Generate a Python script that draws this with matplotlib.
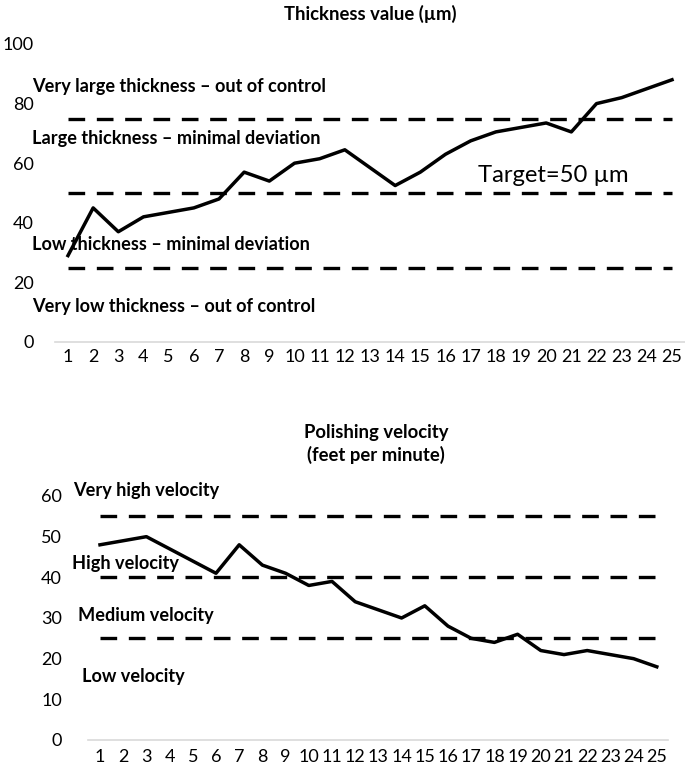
import matplotlib
matplotlib.use('Agg')
import matplotlib.pyplot as plt

plt.rcParams['font.family'] = ['Lato', 'DejaVu Sans']

samples = list(range(1, 26))
thickness = [29, 45, 37, 42, 43.5, 45, 48, 57, 54, 60, 61.5, 64.5, 58.5, 52.5, 57,
             63, 67.5, 70.5, 72, 73.5, 70.5, 80, 82, 85, 88]
thick_limits = [75, 50, 25]
velocity = [48, 49, 50, 47, 44, 41, 48, 43, 41, 38, 39, 34, 32, 30, 33,
            28, 25, 24, 26, 22, 21, 22, 21, 20, 18]
vel_limits = [55, 40, 25]

thick_labels = ['Very large thickness \u2013 out of control',
                'Large thickness \u2013 minimal deviation',
                'Low thickness \u2013 minimal deviation',
                'Very low thickness \u2013 out of control']
vel_labels = ['Very high velocity', 'High velocity', 'Medium velocity', 'Low velocity']

fig = plt.figure(figsize=(6.85, 7.78), dpi=100)
W, H = 685, 778


def px_axes(left, right, top, bottom):
    return fig.add_axes([left / W, (H - bottom) / H, (right - left) / W, (bottom - top) / H])


def style(ax, ymax, ystep, ypad, xpad):
    for s in ['top', 'right', 'left']:
        ax.spines[s].set_visible(False)
    ax.spines['bottom'].set_color('#d9d9d9')
    ax.spines['bottom'].set_linewidth(1.2)
    ax.set_xlim(0.5, 25.5)
    ax.set_ylim(0, ymax)
    ax.set_xticks(samples)
    ax.set_yticks(range(0, ymax + 1, ystep))
    ax.tick_params(axis='both', length=0, labelsize=13, colors='#000000')
    ax.tick_params(axis='y', pad=ypad)
    ax.tick_params(axis='x', pad=xpad)
    ax.patch.set_alpha(0)


# top chart
ax1 = px_axes(55.4, 684.6, 44, 342)
style(ax1, 100, 20, 15.5, 5)
for lim in thick_limits:
    ax1.plot(samples, [lim] * len(samples), color='black', lw=2.4, dashes=(5, 3.5))
ax1.plot(samples, thickness, color='black', lw=2.5)
ax1.text(13, 110.2, 'Thickness value (\u00b5m)', ha='center', va='center',
         fontsize=13.3, fontweight='bold')
for lab, yv, xv in zip(thick_labels, [85.6, 68.3, 32.6, 11.8], [-0.43, -0.43, -0.43, -0.43]):
    ax1.text(xv, yv, lab, ha='left', va='center', fontsize=13.1, fontweight='bold',
             clip_on=False)
ax1.text(17.3, 56, 'Target=50 \u00b5m', ha='left', va='center', fontsize=17.2)

# bottom chart
ax2 = px_axes(88.4, 668.4, 496, 740)
style(ax2, 60, 10, 19, 6.5)
for lim in vel_limits:
    ax2.plot(samples, [lim] * len(samples), color='black', lw=2.4, dashes=(5, 3.5))
ax2.plot(samples, velocity, color='black', lw=2.5)
ax2.text(12.9, 75.6, 'Polishing velocity', ha='center', va='center',
         fontsize=13.3, fontweight='bold')
ax2.text(12.9, 70.0, '(feet per minute)', ha='center', va='center',
         fontsize=13.3, fontweight='bold')
for lab, yv, xv in zip(vel_labels, [61.4, 43.5, 30.7, 15.6], [-0.16, -0.2, 0.06, 0.22]):
    ax2.text(xv, yv, lab, ha='left', va='center', fontsize=13.1, fontweight='bold',
             clip_on=False)

fig.savefig('out.png', dpi=100)
